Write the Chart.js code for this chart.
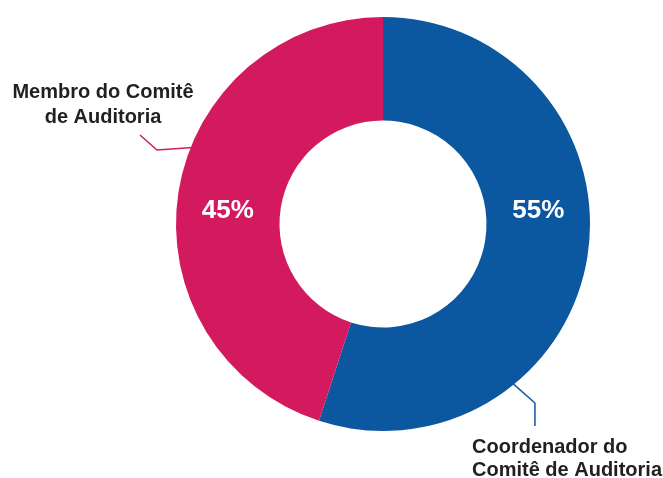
<!DOCTYPE html>
<html>
<head>
<meta charset="utf-8">
<script src="https://cdn.jsdelivr.net/npm/chart.js@4.4.0/dist/chart.umd.min.js"></script>
<style>
  html, body { margin: 0; padding: 0; background: #fff; }
  #wrap { width: 663px; height: 478px; position: relative; }
</style>
</head>
<body>
<div id="wrap"><canvas id="chartCanvas"></canvas></div>
<script>
var categories = ['Coordenador do Comitê de Auditoria', 'Membro do Comitê de Auditoria'];
var values = [55, 45];
var colors = ['#0b57a0', '#d41a5e'];

// label lines for each slice, drawn outside the ring
var labelLines = [
  ['Coordenador do', 'Comitê de Auditoria'],
  ['Membro do Comitê', 'de Auditoria']
];

var sliceLabels = {
  id: 'sliceLabels',
  afterDraw: function(chart) {
    var ctx = chart.ctx;
    var arcs = chart.getDatasetMeta(0).data;
    var cx = arcs[0].x, cy = arcs[0].y;
    var R = arcs[0].outerRadius, r = arcs[0].innerRadius;
    var mid = (R + r) / 2;

    ctx.save();
    // percentages inside the ring
    ctx.fillStyle = '#fff';
    ctx.font = 'bold 26px "Liberation Sans", Arial, sans-serif';
    ctx.textAlign = 'center';
    ctx.textBaseline = 'middle';
    ctx.fillText(values[0] + '%', cx + mid, cy - 13);
    ctx.fillText(values[1] + '%', cx - mid, cy - 13);

    // leader lines
    ctx.lineWidth = 1.5;
    ctx.strokeStyle = colors[0];
    ctx.beginPath();
    ctx.moveTo(cx + 0.58 * R, cy + 0.729 * R);
    ctx.lineTo(cx + 0.734 * R, cy + 0.865 * R);
    ctx.lineTo(cx + 0.734 * R, cy + 0.976 * R);
    ctx.stroke();

    ctx.strokeStyle = colors[1];
    ctx.beginPath();
    ctx.moveTo(cx - 0.884 * R, cy - 0.372 * R);
    ctx.lineTo(cx - 1.092 * R, cy - 0.357 * R);
    ctx.lineTo(cx - 1.174 * R, cy - 0.43 * R);
    ctx.stroke();

    // category names
    ctx.fillStyle = '#231f20';
    ctx.font = 'bold 20px "Liberation Sans", Arial, sans-serif';
    ctx.textBaseline = 'alphabetic';
    ctx.textAlign = 'left';
    ctx.fillText(labelLines[0][0], 472, 453);
    ctx.fillText(labelLines[0][1], 472, 476);
    ctx.textAlign = 'center';
    ctx.fillText(labelLines[1][0], 103, 98);
    ctx.fillText(labelLines[1][1], 103, 123);
    ctx.restore();
  }
};

var ctx = document.getElementById('chartCanvas');

var donut = new Chart(ctx, {
  type: 'doughnut',
  data: {
    labels: categories,
    datasets: [{
      data: values,
      backgroundColor: colors,
      borderWidth: 0
    }]
  },
  options: {
    responsive: true,
    maintainAspectRatio: false,
    animation: false,
    cutout: '50%',
    layout: { padding: { left: 176, right: 73, top: 17, bottom: 47 } },
    plugins: {
      legend: { display: false },
      tooltip: { enabled: false }
    }
  },
  plugins: [sliceLabels]
});
</script>
</body>
</html>
